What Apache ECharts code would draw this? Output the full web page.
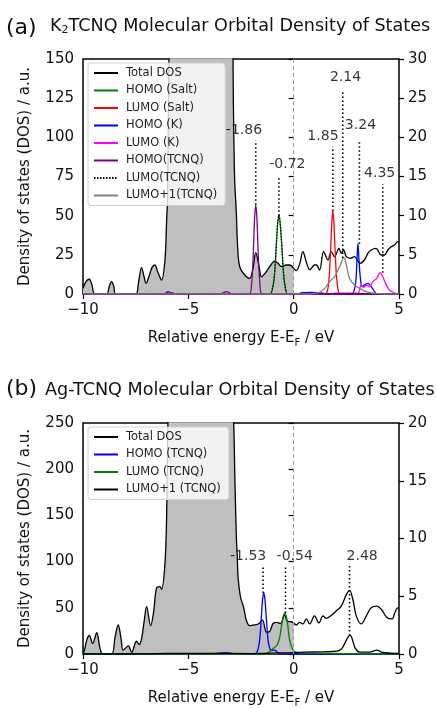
<!DOCTYPE html>
<html>
<head>
<meta charset="utf-8">
<script src="https://cdn.jsdelivr.net/npm/echarts@6/dist/echarts.min.js"></script>
<style>
html, body { margin: 0; padding: 0; background: #fff; }
#main { width: 437px; height: 709px; }
</style>
</head>
<body>
<div id="main"></div>
<script>
// ---------- panel (a) K2TCNQ : [energy, value] ----------
// total DOS on left axis (0-150)
const totalNegA = [[-10,3.6],[-9.85,8],[-9.7,9.4],[-9.58,6],[-9.43,0],[-8.88,0],[-8.75,5],[-8.64,7.9],[-8.54,5],[-8.44,0],
  [-7.49,0],[-7.38,6],[-7.22,16.8],[-7.1,11],[-7.01,6.8],[-6.85,12],[-6.72,17],[-6.59,18.5],[-6.45,14],[-6.27,8.9],
  [-6.11,21.7],[-6.03,47],[-5.99,60],[-5.95,110],[-5.9,170],[-5.8,220],[-5.5,260],[-4.5,280],[-3.5,260],[-3.0,200],
  [-2.9,170],[-2.86,120],[-2.8,72.7],[-2.72,51.5],[-2.66,30],[-2.56,17.4],[-2.32,12.1],[-2.09,10],[-1.93,16.4],[-1.8,26.4],
  [-1.64,17.4],[-1.53,11],[-1.37,13],[-1.14,17.4],[-0.9,21],[-0.74,19.6],[-0.58,17.5],[-0.35,18.5],[-0.19,18.5],[0,16.4]];
const totalPosA = [[0,16.4],[0.12,14.9],[0.28,19],[0.44,27],[0.6,20.4],[0.76,15.5],[0.84,16.4],[0.99,18.5],[1.08,18.5],[1.23,15.3],
  [1.42,27],[1.63,21.7],[1.78,27],[1.94,23.8],[2.15,29.1],[2.26,25.9],[2.37,28.1],[2.5,23.8],[2.69,22.8],[2.89,23.8],
  [3.05,21],[3.15,19.6],[3.36,21.7],[3.52,25.9],[3.68,28.1],[3.91,29.1],[4.15,24.9],[4.31,24.9],[4.47,28.1],[4.63,30.2],
  [4.79,31.3],[4.94,33.4],[5,33]];
// projected DOS on right axis (0-30)
const homoSaltA = [[-10,0],[-1.15,0],[-1.0,0.8],[-0.9,2.8],[-0.82,6.4],[-0.76,9],[-0.7,10.08],[-0.64,9],[-0.56,6],[-0.48,2.6],[-0.38,0.6],[-0.27,0],[5,0]];
const lumoSaltA = [[-10,0],[1.5,0],[1.6,0.4],[1.68,2],[1.75,5.4],[1.81,9],[1.86,10.64],[1.91,9],[1.97,5.4],[2.04,2],[2.12,0.4],[2.2,0],[5,0]];
const homoKA = [[-10,0],[-6.2,0],[-6.05,0.16],[-5.96,0.3],[-5.85,0.1],[-5.75,0],[0.2,0],[0.4,0.16],[0.8,0.2],[1.2,0.16],[1.5,0.06],
  [2.7,0],[2.82,0.1],[2.94,1.36],[3.0,4],[3.05,6.46],[3.1,4.4],[3.16,2.2],[3.25,0.94],[3.36,1.14],[3.52,1.36],[3.68,0.94],[3.84,0.3],[3.95,0],[5,0]];
const lumoKA = [[-10,0],[-6.0,0],[-5.8,0.14],[-5.6,0],[1.5,0],[2.0,0.1],[2.8,0.1],[3.0,0.12],[3.09,0.16],[3.2,1.14],[3.33,0.86],
  [3.45,1.14],[3.6,0.94],[3.76,1.58],[3.95,2],[4.1,2.72],[4.23,2.2],[4.36,1.36],[4.52,0.6],[4.71,0.22],[4.94,0.04],[5,0.04]];
const homoTcnqA = [[-10,0],[-6.0,0],[-5.8,0.16],[-5.6,0],[-3.5,0],[-3.35,0.16],[-3.2,0.3],[-3.05,0.16],[-2.9,0],[-2.12,0],
  [-2.0,1.2],[-1.92,5],[-1.86,9.4],[-1.8,11.36],[-1.74,9.4],[-1.68,5],[-1.6,1.2],[-1.5,0],[5,0]];
const lumoTcnqA = homoSaltA;
const lumo1TcnqA = [[-10,0],[0.8,0],[1.0,0.1],[1.23,0.2],[1.47,0.72],[1.71,1.58],[1.94,2.2],[2.18,3.48],[2.39,4.68],[2.5,3.7],
  [2.65,2],[2.89,1.14],[3.13,0.72],[3.45,0.3],[3.76,0.1],[4.2,0],[5,0]];
// peak markers (left axis units)
const peakXA = [-1.8, -0.7, 1.86, 2.33, 3.12, 4.23];
const peakTopA = [98, 75, 94, 130, 98, 70];
const peakBotA = [57, 50, 53, 23, 32, 13.5];
const peakTextA = ['-1.86', '-0.72', '1.85', '2.14', '3.24', '4.35'];
const peakTextXA = [-2.36, -0.3, 1.39, 2.46, 3.17, 4.08];
const peakTextYA = [104.7, 82.8, 100.4, 138.5, 107.8, 77];

// ---------- panel (b) Ag-TCNQ ----------
// total DOS on left axis (0-250)
const totalNegB = [[-10,0],[-9.95,2.5],[-9.82,15],[-9.7,20],[-9.54,11.3],[-9.35,23],[-9.19,6],[-9.07,0],[-8.64,0],[-8.48,18],
  [-8.33,31.4],[-8.2,18],[-8.09,4.2],[-7.85,8.8],[-7.69,1.8],[-7.46,13.8],[-7.33,10.2],[-7.22,16.6],[-7.1,35],[-6.98,51.2],
  [-6.79,30.7],[-6.65,45],[-6.51,71.3],[-6.35,73],[-6.27,70],[-6.11,97.8],[-6.03,150],[-5.97,250],[-5.9,320],[-5.5,380],
  [-4,400],[-3.2,350],[-2.9,280],[-2.78,180],[-2.72,126],[-2.68,108],[-2.64,83.7],[-2.53,62.5],[-2.37,50],[-2.24,36],
  [-2.09,30.7],[-1.85,31.4],[-1.64,33],[-1.48,37],[-1.29,23.6],[-1.14,24.3],[-0.98,33],[-0.79,34.2],[-0.62,33],[-0.43,42],
  [-0.27,35],[-0.11,34.9],[0,33.6]];
const totalPosB = [[0,33.6],[0.13,31.4],[0.28,34.2],[0.44,32.5],[0.6,38],[0.76,32.5],[0.99,41.3],[1.2,33.6],[1.39,41.3],[1.55,38.5],
  [1.79,42],[2.02,46.6],[2.26,51.9],[2.5,64.3],[2.65,68.9],[2.81,59],[2.97,41.3],[3.21,32.5],[3.45,41.3],[3.68,50.1],
  [3.95,51.9],[4.16,48.4],[4.42,39.6],[4.68,38],[4.79,44],[4.94,50],[5,50]];
// projected DOS on right axis (0-20)
const homoTcnqB = [[-10,0],[-4.2,0],[-3.6,0.06],[-3.2,0.12],[-2.9,0.04],[-2.5,0],[-1.85,0],[-1.72,0.24],[-1.62,1.12],[-1.54,3.04],
  [-1.48,4.64],[-1.42,5.34],[-1.36,4.64],[-1.29,2.88],[-1.21,1.12],[-1.12,0.4],[-1.0,0.32],[-0.9,0.34],[-0.78,0.16],[-0.65,0],[5,0]];
const lumoTcnqB = [[-10,0],[-1.4,0],[-1.29,0.06],[-1.1,0.24],[-0.98,0.48],[-0.79,0.76],[-0.66,1.47],[-0.51,3.17],[-0.41,3.53],
  [-0.3,2.74],[-0.19,1.18],[-0.03,0.34],[0.16,0.14],[0.5,0.08],[1.5,0.08],[2.5,0.04],[5,0]];
const lumo1TcnqB = [[-10,0],[-7.5,0],[-6,0.06],[-4,0.06],[-2,0.04],[0,0.12],[0.5,0.16],[1.5,0.2],[2.02,0.24],[2.26,0.42],
  [2.42,0.9],[2.58,1.47],[2.69,1.61],[2.81,1.12],[2.92,0.51],[3.13,0.17],[3.6,0.16],[3.95,0.34],[4.16,0.17],[4.6,0.08],[5,0.06]];
const peakXB = [-1.45, -0.39, 2.65];
const peakTopB = [96, 96, 98];
const peakBotB = [66, 44.5, 20];
const peakTextB = ['-1.53', '-0.54', '2.48'];
const peakTextXB = [-2.16, 0.05, 3.25];
const peakTextYB = [105.6, 105.6, 105.6];

const xTicks = [-10, 5];          // min, interval
const leftMaxA = 150, rightMaxA = 30;
const leftMaxB = 250, rightMaxB = 20;

const FONT = 'DejaVu Sans';
const minus = v => String(v).replace('-', '\u2212');

const lineSeries = (name, data, color, grid, axis, extra) => Object.assign({
  name: name, type: 'line', data: data, xAxisIndex: grid, yAxisIndex: axis,
  symbol: 'none', showSymbol: false, smooth: 0.35, clip: true,
  lineStyle: { color: color, width: 1.3 }, itemStyle: { color: color }
}, extra || {});

const peakSeries = (grid, axis, xs, tops, bots, texts, tx, ty) => {
  const out = [];
  for (let i = 0; i < xs.length; i++) {
    out.push({
      type: 'line', xAxisIndex: grid, yAxisIndex: axis, symbol: 'none', silent: true,
      data: [[xs[i], bots[i]], [xs[i], tops[i]]],
      lineStyle: { color: '#000', width: 1.6, type: [1.5, 2.5] }, z: 5
    });
  }
  out.push({
    type: 'scatter', xAxisIndex: grid, yAxisIndex: axis, symbolSize: 1, silent: true,
    itemStyle: { color: 'rgba(0,0,0,0)' },
    data: texts.map((t, i) => ({ value: [tx[i], ty[i]], name: t })),
    label: { show: true, position: 'inside', formatter: p => p.name,
      fontFamily: FONT, fontSize: 14, color: '#000' }, z: 6
  });
  return out;
};

const zeroLine = {
  silent: true, symbol: 'none', label: { show: false },
  lineStyle: { color: '#999', type: [4, 3], width: 1 },
  data: [{ xAxis: 0 }]
};

const xAxisOf = (grid) => ({
  type: 'value', gridIndex: grid, min: xTicks[0], max: 5, interval: xTicks[1],
  name: 'Relative energy E-E{s|F} / eV', nameLocation: 'middle', nameGap: 34,
  nameTextStyle: { fontFamily: FONT, fontSize: 15, color: '#111', lineHeight: 20,
    rich: { s: { fontFamily: FONT, fontSize: 10, color: '#111', verticalAlign: 'bottom' } } },
  axisLine: { show: false },
  axisTick: { show: true, length: 5, lineStyle: { color: '#000', width: 1.2 } },
  axisLabel: { fontFamily: FONT, fontSize: 15, color: '#111', margin: 9, formatter: minus },
  splitLine: { show: false }
});
const yAxisOf = (grid, max, interval, pos, name) => ({
  type: 'value', gridIndex: grid, min: 0, max: max, interval: interval, position: pos,
  name: name || '', nameLocation: 'middle', nameGap: 50,
  nameTextStyle: { fontFamily: FONT, fontSize: 15, color: '#111' },
  axisLine: { show: false },
  axisTick: { show: true, length: 5, lineStyle: { color: '#000', width: 1.2 } },
  axisLabel: { fontFamily: FONT, fontSize: 15, color: '#111', margin: 9 },
  splitLine: { show: false }
});

const legendOf = (top, names) => ({
  orient: 'vertical', left: 88, top: top, data: names,
  padding: [4, 8, 4, 5], itemWidth: 24, itemHeight: 12, itemGap: 5.5,
  itemStyle: { opacity: 0 },
  backgroundColor: 'rgba(255,255,255,0.8)', borderColor: '#d0d0d0', borderWidth: 1, borderRadius: 3,
  textStyle: { fontFamily: FONT, fontSize: 11.5, color: '#222', padding: [0, 0, 0, 3] },
  selectedMode: false
});

const chart = echarts.init(document.getElementById('main'));
chart.setOption({
  animation: false,
  backgroundColor: '#fff',
  title: [
    { text: '(a)', left: 6, top: 15, padding: 0, textStyle: { fontFamily: FONT, fontSize: 22, fontWeight: 'normal', color: '#111', lineHeight: 26 } },
    { text: '{t|K}{s|2}{t|TCNQ Molecular Orbital Density of States}', left: 50, top: 16, padding: 0,
      textStyle: { fontWeight: 'normal', rich: {
        t: { fontFamily: FONT, fontSize: 17.6, fontWeight: 'normal', color: '#111', lineHeight: 20 },
        s: { fontFamily: FONT, fontSize: 11, fontWeight: 'normal', color: '#111', verticalAlign: 'bottom' } } } },
    { text: '(b)', left: 6, top: 376, padding: 0, textStyle: { fontFamily: FONT, fontSize: 22, fontWeight: 'normal', color: '#111', lineHeight: 26 } },
    { text: 'Ag-TCNQ Molecular Orbital Density of States', left: 45, top: 380, padding: 0,
      textStyle: { fontFamily: FONT, fontSize: 17.6, fontWeight: 'normal', color: '#111', lineHeight: 20 } }
  ],
  grid: [
    { left: 83, right: 38, top: 59, height: 235, show: true, borderColor: '#000', borderWidth: 1.5, backgroundColor: 'transparent' },
    { left: 83, right: 38, top: 423, height: 236, show: true, borderColor: '#000', borderWidth: 1.5, backgroundColor: 'transparent' }
  ],
  legend: [
    legendOf(63, ['Total DOS', 'HOMO (Salt)', 'LUMO (Salt)', 'HOMO (K)', 'LUMO (K)', 'HOMO(TCNQ)', 'LUMO(TCNQ)', 'LUMO+1(TCNQ)']),
    legendOf(427, ['Total DOS', 'HOMO (TCNQ)', 'LUMO (TCNQ)', 'LUMO+1 (TCNQ)'])
  ],
  xAxis: [xAxisOf(0), xAxisOf(1)],
  yAxis: [
    yAxisOf(0, leftMaxA, 25, 'left', 'Density of states (DOS) / a.u.'),
    yAxisOf(0, rightMaxA, 5, 'right'),
    yAxisOf(1, leftMaxB, 50, 'left', 'Density of states (DOS) / a.u.'),
    yAxisOf(1, rightMaxB, 5, 'right')
  ],
  series: [
    lineSeries('Total DOS', totalNegA, '#000', 0, 0, { areaStyle: { color: '#bfbfbf', opacity: 1 }, markLine: zeroLine }),
    lineSeries('Total DOS', totalPosA, '#000', 0, 0),
    lineSeries('HOMO (Salt)', homoSaltA, '#008000', 0, 1),
    lineSeries('LUMO (Salt)', lumoSaltA, '#ff0000', 0, 1),
    lineSeries('HOMO (K)', homoKA, '#0000ff', 0, 1),
    lineSeries('LUMO (K)', lumoKA, '#ff00ff', 0, 1),
    lineSeries('HOMO(TCNQ)', homoTcnqA, '#800080', 0, 1),
    lineSeries('LUMO(TCNQ)', lumoTcnqA, '#000', 0, 1, { lineStyle: { color: '#000', width: 1.2, type: [1.5, 1.5] } }),
    lineSeries('LUMO+1(TCNQ)', lumo1TcnqA, '#808080', 0, 1),
    ...peakSeries(0, 0, peakXA, peakTopA, peakBotA, peakTextA, peakTextXA, peakTextYA),

    lineSeries('Total DOS', totalNegB, '#000', 1, 2, { areaStyle: { color: '#bfbfbf', opacity: 1 }, markLine: zeroLine }),
    lineSeries('Total DOS', totalPosB, '#000', 1, 2),
    lineSeries('HOMO (TCNQ)', homoTcnqB, '#0000ff', 1, 3),
    lineSeries('LUMO (TCNQ)', lumoTcnqB, '#008000', 1, 3),
    lineSeries('LUMO+1 (TCNQ)', lumo1TcnqB, '#000', 1, 3),
    ...peakSeries(1, 2, peakXB, peakTopB, peakBotB, peakTextB, peakTextXB, peakTextYB)
  ]
});
</script>
</body>
</html>
